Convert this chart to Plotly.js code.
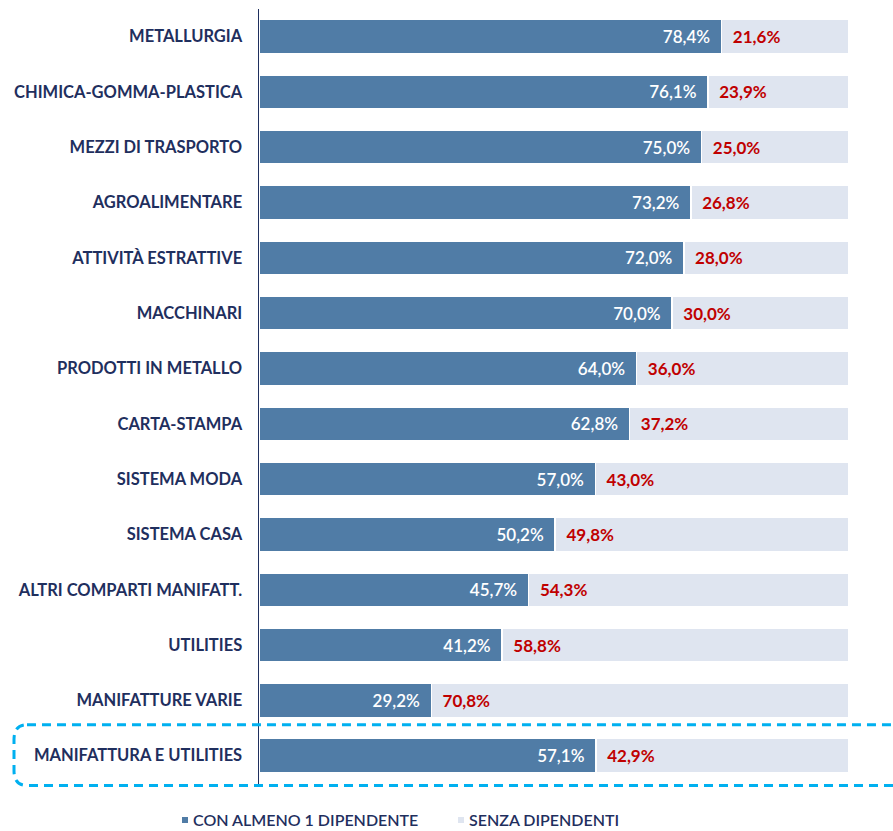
<!DOCTYPE html>
<html>
<head>
<meta charset="utf-8">
<script src="https://cdn.plot.ly/plotly-3.0.1.min.js"></script>
<style>html,body{margin:0;padding:0;background:#fff;}#chart{width:893px;height:831px;}</style>
</head>
<body>
<div id="chart"></div>
<script>
const categories = [
  "METALLURGIA",
  "CHIMICA-GOMMA-PLASTICA",
  "MEZZI DI TRASPORTO",
  "AGROALIMENTARE",
  "ATTIVITÀ ESTRATTIVE",
  "MACCHINARI",
  "PRODOTTI IN METALLO",
  "CARTA-STAMPA",
  "SISTEMA MODA",
  "SISTEMA CASA",
  "ALTRI COMPARTI MANIFATT.",
  "UTILITIES",
  "MANIFATTURE VARIE",
  "MANIFATTURA E UTILITIES"
];
const conDipendente = [78.4, 76.1, 75.0, 73.2, 72.0, 70.0, 64.0, 62.8, 57.0, 50.2, 45.7, 41.2, 29.2, 57.1];
const senzaDipendenti = [21.6, 23.9, 25.0, 26.8, 28.0, 30.0, 36.0, 37.2, 43.0, 49.8, 54.3, 58.8, 70.8, 42.9];
const seriesNames = ["CON ALMENO 1 DIPENDENTE", "SENZA DIPENDENTI"];
const seriesColors = ["#507CA6", "#DFE5F0"];

const FONT = "Lato, 'Open Sans', sans-serif";
const NAVY = "#1F2F5E";
const NB = "\u00a0";

const W = 893, H = 831;
const M = {l: 259, r: 44, t: 9, b: 0};
const plotW = W - M.l - M.r, paperH = H - M.t - M.b;
const px2x = px => (px - M.l) / plotW;
const px2y = py => (H - M.b - py) / paperH;

const traces = [
  {
    type: "bar", orientation: "h", name: seriesNames[0],
    y: categories, x: conDipendente, width: 0.612,
    marker: {color: seriesColors[0], line: {color: "#ffffff", width: 1.5}},
    texttemplate: "%{x:.1f}%" + NB + NB, textposition: "inside", insidetextanchor: "end",
    textangle: 0, constraintext: "none",
    textfont: {family: FONT, size: 17, color: "#ffffff", weight: 600},
    hoverinfo: "skip"
  },
  {
    type: "bar", orientation: "h", name: seriesNames[1],
    y: categories, x: senzaDipendenti, width: 0.612,
    marker: {color: seriesColors[1], line: {color: "#ffffff", width: 1.5}},
    texttemplate: NB + NB + "%{x:.1f}%", textposition: "inside", insidetextanchor: "start",
    textangle: 0, constraintext: "none",
    textfont: {family: FONT, size: 17, color: "#C00000", weight: 700},
    hoverinfo: "skip"
  }
];

const n = categories.length;
const yTop = n - 1 - 0.56, yBot = n - 1 + 0.54;
const x0 = px2x(14), x1 = 1.1, rx = 0.022, ry = 0.27;
const boxPath = `M ${x0+rx},${yTop} L ${x1},${yTop} M ${x1},${yBot} L ${x0+rx},${yBot} Q ${x0},${yBot} ${x0},${yBot-ry} L ${x0},${yTop+ry} Q ${x0},${yTop} ${x0+rx},${yTop}`;

// custom legend below the plot
const legendX = [182, 458];
const legendY = 819;
const shapes = [{
  type: "path", xref: "paper", yref: "y", path: boxPath,
  line: {color: "#00B0F0", width: 3, dash: "9px,6px"}, layer: "above"
}];
const annotations = [];
seriesNames.forEach((name, i) => {
  shapes.push({
    type: "rect", xref: "paper", yref: "paper",
    x0: px2x(legendX[i]), x1: px2x(legendX[i] + 6),
    y0: px2y(legendY + 4), y1: px2y(legendY - 2),
    fillcolor: seriesColors[i], line: {width: 0}
  });
  annotations.push({
    xref: "paper", yref: "paper", x: px2x(legendX[i] + 10), y: px2y(legendY),
    xanchor: "left", yanchor: "middle", showarrow: false, text: name,
    borderpad: 0,
    font: {family: FONT, size: 16, color: NAVY, weight: 600}
  });
});

const layout = {
  width: W, height: H,
  margin: {l: M.l, r: M.r, t: M.t, b: M.b, autoexpand: false},
  paper_bgcolor: "#ffffff", plot_bgcolor: "#ffffff",
  barmode: "stack",
  separators: ",.",
  showlegend: false,
  xaxis: {range: [0, 100], visible: false, fixedrange: true},
  yaxis: {
    type: "category", autorange: "reversed",
    domain: [44 / paperH, 1],
    showline: true, linecolor: NAVY, linewidth: 1.5,
    showgrid: false, zeroline: false, ticks: "",
    ticklabelstandoff: 12,
    tickfont: {family: FONT, size: 16.5, color: NAVY, weight: 700}
  },
  shapes: shapes,
  annotations: annotations
};

Plotly.newPlot("chart", traces, layout, {displayModeBar: false, staticPlot: true});
</script>
</body>
</html>
